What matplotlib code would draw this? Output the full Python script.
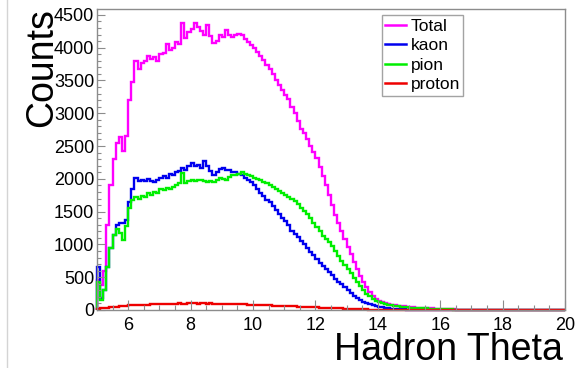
import matplotlib
matplotlib.use("Agg")
import matplotlib.pyplot as plt
import numpy as np
from matplotlib.lines import Line2D
from matplotlib.ticker import MultipleLocator

plt.rcParams["font.family"] = ["Liberation Sans", "DejaVu Sans"]

# theta histogram, 0.1-wide bins from 5 to 20
theta_lo, theta_hi = 5.0, 20.0

total = [
    450, 380, 600, 1300, 1900, 2300, 2550, 2640, 2420, 2650,
    3200, 3480, 3800, 3680, 3760, 3800, 3880, 3820, 3860, 3790,
    3900, 3920, 4050, 3960, 4000, 4080, 4060, 4380, 4150, 4240,
    4280, 4380, 4320, 4250, 4200, 4350, 4180, 4070, 4100, 4200,
    4160, 4270, 4200, 4170, 4190, 4210, 4190, 4140, 4080, 4040,
    4000, 3940, 3880, 3810, 3740, 3680, 3600, 3500, 3430, 3350,
    3280, 3210, 3100, 3000, 2880, 2760, 2700, 2600, 2500, 2410,
    2320, 2180, 2050, 1900, 1760, 1600, 1450, 1320, 1200, 1080,
    960, 850, 730, 620, 520, 430, 350, 280, 220, 170,
    140, 120, 100, 90, 75, 70, 65, 60, 55, 50,
    45, 40, 38, 35, 32, 30, 27, 25, 22, 20,
    18, 15, 12, 10, 8, 6, 5, 4, 3, 2,
    1, 1, 1, 0, 1, 0, 0, 1, 0, 0,
    0, 0, 0, 0, 0, 0, 0, 0, 0, 0,
    0, 0, 0, 0, 0, 0, 0, 0, 0, 0,
]

kaon = [
    650, 180, 300, 650, 950, 1150, 1290, 1320, 1330, 1380,
    1650, 1850, 2020, 1960, 1990, 1970, 2000, 1960, 1950, 1990,
    2010, 2040, 2020, 2070, 2060, 2100, 2120, 2170, 2140, 2200,
    2240, 2190, 2210, 2170, 2270, 2200, 2120, 2060, 2110, 2150,
    2160, 2130, 2140, 2110, 2100, 2080, 2060, 2020, 1990, 1950,
    1900, 1850, 1790, 1740, 1680, 1640, 1580, 1530, 1460, 1400,
    1350, 1290, 1210, 1160, 1110, 1050, 1010, 950, 880, 840,
    780, 720, 670, 620, 580, 530, 480, 430, 390, 350,
    310, 260, 220, 180, 150, 125, 105, 90, 75, 60,
    50, 40, 32, 25, 20, 15, 12, 10, 8, 6,
    5, 4, 3, 3, 2, 2, 1, 1, 1, 0,
    0, 0, 0, 0, 0, 0, 0, 0, 0, 0,
    0, 0, 0, 0, 0, 0, 0, 0, 0, 0,
    0, 0, 0, 0, 0, 0, 0, 0, 0, 0,
    0, 0, 0, 0, 0, 0, 0, 0, 0, 0,
]

pion = [
    420, 150, 300, 650, 950, 1150, 1230, 1180, 1060, 1280,
    1550, 1680, 1720, 1700, 1740, 1720, 1780, 1760, 1800, 1790,
    1840, 1830, 1860, 1850, 1880, 1900, 1930, 2090, 1940, 1970,
    1980, 1960, 1990, 1980, 1970, 1950, 1960, 1950, 1990, 2010,
    2000, 1990, 2030, 2060, 2060, 2080, 2100, 2070, 2060, 2040,
    2010, 2000, 1980, 1950, 1930, 1900, 1880, 1850, 1820, 1790,
    1760, 1730, 1700, 1660, 1610, 1560, 1510, 1460, 1400, 1330,
    1260, 1200, 1130, 1080, 1030, 980, 900, 820, 750, 690,
    630, 560, 490, 420, 360, 300, 250, 210, 170, 140,
    120, 100, 90, 80, 70, 60, 55, 50, 45, 40,
    38, 35, 32, 30, 28, 25, 22, 20, 18, 16,
    14, 12, 10, 8, 6, 5, 4, 3, 2, 2,
    1, 1, 1, 0, 1, 0, 0, 1, 0, 0,
    0, 0, 0, 0, 0, 0, 0, 0, 0, 0,
    0, 0, 0, 0, 0, 0, 0, 0, 0, 0,
]

proton = [
    20, 25, 30, 35, 40, 45, 50, 55, 60, 65,
    70, 72, 75, 78, 80, 82, 80, 85, 84, 88,
    90, 88, 92, 95, 90, 96, 100, 95, 98, 102,
    100, 105, 98, 102, 100, 96, 100, 95, 98, 94,
    92, 95, 90, 88, 92, 85, 88, 84, 82, 80,
    80, 78, 76, 74, 72, 70, 68, 66, 64, 62,
    60, 58, 56, 55, 52, 50, 48, 46, 44, 42,
    40, 38, 36, 34, 32, 30, 28, 26, 24, 22,
    20, 18, 16, 14, 12, 10, 8, 7, 6, 5,
    4, 4, 3, 3, 2, 2, 2, 1, 1, 1,
    0, 0, 0, 0, 0, 0, 0, 0, 0, 0,
    0, 0, 0, 0, 0, 0, 0, 0, 0, 0,
    0, 0, 0, 0, 0, 0, 0, 0, 0, 0,
    0, 0, 0, 0, 0, 0, 0, 0, 0, 0,
    0, 0, 0, 0, 0, 0, 0, 0, 0, 0,
]

series = [
    ("Total", total, "#ff00ff"),
    ("kaon", kaon, "#0000ee"),
    ("pion", pion, "#00ee00"),
    ("proton", proton, "#ee0000"),
]

frame_grey = "#8c8c8c"

fig = plt.figure(figsize=(5.77, 3.68), dpi=100)
ax = fig.add_axes([97 / 577, 1 - 310 / 368, 468 / 577, 301 / 368])

edges = np.linspace(theta_lo, theta_hi, len(total) + 1)
for name, values, color in series:
    ax.stairs(values, edges, color=color, linewidth=1.7, label=name, clip_on=False)

ax.set_xlim(theta_lo, theta_hi)
ax.set_ylim(0, 4590)

ax.xaxis.set_major_locator(MultipleLocator(2))
ax.xaxis.set_minor_locator(MultipleLocator(0.5))
ax.yaxis.set_major_locator(MultipleLocator(500))
ax.yaxis.set_minor_locator(MultipleLocator(100))
ax.set_xticks(np.arange(6, 21, 2))

ax.tick_params(axis="both", which="both", direction="in", color=frame_grey,
               labelsize=13, labelcolor="black")
ax.tick_params(axis="x", which="major", length=7.5, width=0.8, pad=5)
ax.tick_params(axis="x", which="minor", length=3.8, width=0.8)
ax.tick_params(axis="y", which="major", length=5.5, width=0.8, pad=2)
ax.tick_params(axis="y", which="minor", length=2.8, width=0.8)

for side in ax.spines.values():
    side.set_color(frame_grey)
    side.set_linewidth(1.0)

fig.text(563 / 577, 1 - 350 / 368, "Hadron Theta", fontsize=27,
         ha="right", va="center")
fig.text(42 / 577, 1 - 8 / 368, "Counts", fontsize=27, rotation=90,
         ha="center", va="top")

leg = ax.legend(loc="upper left", bbox_to_anchor=(382 / 577, 1 - 15 / 368),
                bbox_transform=fig.transFigure, fontsize=12.5, frameon=True,
                fancybox=False, borderpad=0.2, labelspacing=0.25,
                handlelength=1.2, handletextpad=0.25, borderaxespad=0)
leg.get_frame().set_edgecolor(frame_grey)
leg.get_frame().set_linewidth(1.0)
for handle in leg.legend_handles:
    handle.set_linewidth(1.8)

# thin border along the left edge of the canvas
fig.add_artist(Line2D([7 / 577, 7 / 577], [0, 1], transform=fig.transFigure,
                      color="#d4d4d4", linewidth=1.0))

fig.savefig("out.png", dpi=100)
